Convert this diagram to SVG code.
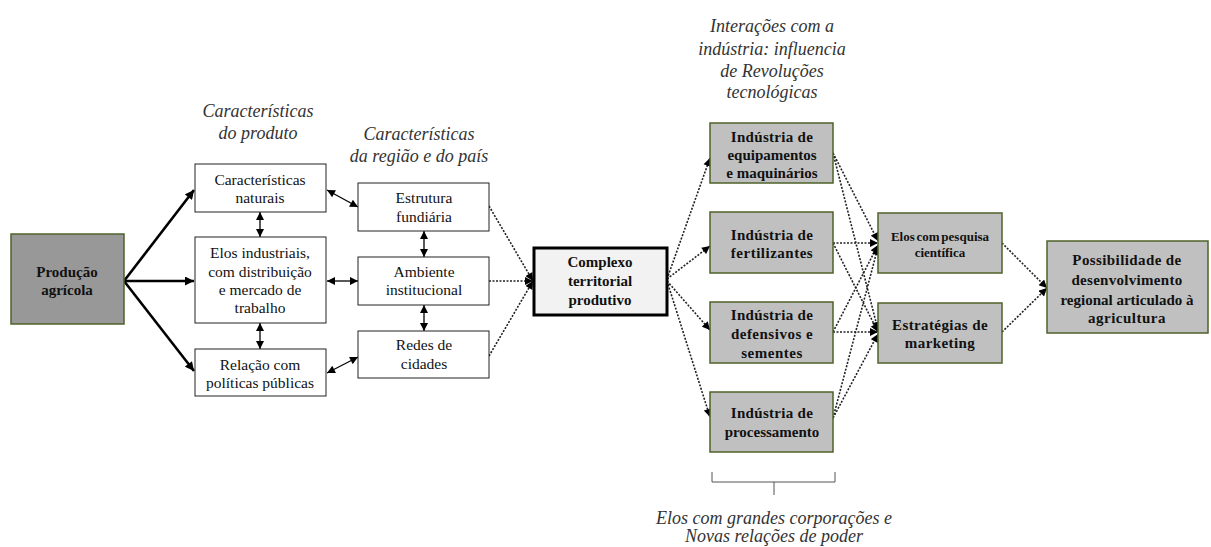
<svg xmlns="http://www.w3.org/2000/svg" width="1211" height="547" viewBox="0 0 1211 547">
<style>
.t{font-family:"Liberation Serif","DejaVu Serif",serif;font-size:15.5px;fill:#111;text-anchor:middle}
.b{font-weight:bold;font-size:15px}
.sm{font-size:13px;word-spacing:-1.5px}
.i{font-family:"Liberation Serif","DejaVu Serif",serif;font-style:italic;font-size:18px;fill:#333;text-anchor:middle}
.wbox{fill:#fff;stroke:#222;stroke-width:1}
.gbox{fill:#c0c0c0;stroke:#4f6228;stroke-width:1.5}
.dbox{fill:#989898;stroke:#4f6228;stroke-width:1.5}
.solid{stroke:#000;stroke-width:1.3;fill:none}
.thick{stroke:#000;stroke-width:2.6;fill:none}
.dot{stroke:#222;stroke-width:1.6;stroke-dasharray:2,1.5;fill:none}
</style>
<defs>
<marker id="ah" viewBox="0 0 10 10" refX="10" refY="5" markerWidth="9" markerHeight="8" markerUnits="userSpaceOnUse" orient="auto-start-reverse"><path d="M0,0 L10,5 L0,10 z" fill="#000"/></marker>
<marker id="ahb" viewBox="0 0 10 10" refX="10" refY="5" markerWidth="11" markerHeight="9" markerUnits="userSpaceOnUse" orient="auto"><path d="M0,0 L10,5 L0,10 z" fill="#000"/></marker>
</defs>

<g id="titles">
<text class="i" x="258" y="117">Características</text>
<text class="i" x="258" y="139">do produto</text>
<text class="i" x="419" y="140">Características</text>
<text class="i" x="419" y="162">da região e do país</text>
<text class="i" x="772" y="32">Interações com a</text>
<text class="i" x="772" y="55">indústria: influencia</text>
<text class="i" x="772" y="77">de Revoluções</text>
<text class="i" x="772" y="98">tecnológicas</text>
<text class="i" x="774" y="524">Elos com grandes corporações e</text>
<text class="i" x="774" y="542">Novas relações de poder</text>
</g>

<g id="connectors">
<line class="thick" x1="124" y1="281" x2="194" y2="190" marker-end="url(#ahb)"/>
<line class="thick" x1="124" y1="281" x2="194" y2="281" marker-end="url(#ahb)"/>
<line class="thick" x1="124" y1="281" x2="194" y2="371" marker-end="url(#ahb)"/>
<line class="solid" x1="260" y1="212" x2="260" y2="237" marker-start="url(#ah)" marker-end="url(#ah)"/>
<line class="solid" x1="260" y1="323" x2="260" y2="349" marker-start="url(#ah)" marker-end="url(#ah)"/>
<line class="solid" x1="424" y1="231" x2="424" y2="257" marker-start="url(#ah)" marker-end="url(#ah)"/>
<line class="solid" x1="424" y1="305" x2="424" y2="331" marker-start="url(#ah)" marker-end="url(#ah)"/>
<line class="solid" x1="327" y1="190" x2="358" y2="207" marker-start="url(#ah)" marker-end="url(#ah)"/>
<line class="solid" x1="327" y1="281" x2="358" y2="281" marker-start="url(#ah)" marker-end="url(#ah)"/>
<line class="solid" x1="327" y1="373" x2="358" y2="357" marker-start="url(#ah)" marker-end="url(#ah)"/>
<line class="dot" x1="489" y1="206" x2="533" y2="281" marker-end="url(#ah)"/>
<line class="dot" x1="489" y1="281" x2="533" y2="281" marker-end="url(#ah)"/>
<line class="dot" x1="489" y1="356" x2="533" y2="281" marker-end="url(#ah)"/>
<line class="dot" x1="667" y1="279" x2="710" y2="158" marker-end="url(#ah)"/>
<line class="dot" x1="667" y1="279" x2="710" y2="246" marker-end="url(#ah)"/>
<line class="dot" x1="667" y1="281" x2="710" y2="330" marker-end="url(#ah)"/>
<line class="dot" x1="667" y1="281" x2="710" y2="417" marker-end="url(#ah)"/>
<line class="dot" x1="833" y1="153" x2="878" y2="241" marker-end="url(#ah)"/>
<line class="dot" x1="833" y1="153" x2="878" y2="330" marker-end="url(#ah)"/>
<line class="dot" x1="833" y1="243" x2="878" y2="243" marker-end="url(#ah)"/>
<line class="dot" x1="833" y1="243" x2="878" y2="332" marker-end="url(#ah)"/>
<line class="dot" x1="833" y1="332" x2="878" y2="245" marker-end="url(#ah)"/>
<line class="dot" x1="833" y1="332" x2="878" y2="332" marker-end="url(#ah)"/>
<line class="dot" x1="833" y1="418" x2="878" y2="247" marker-end="url(#ah)"/>
<line class="dot" x1="833" y1="418" x2="878" y2="334" marker-end="url(#ah)"/>
<line class="dot" x1="1002" y1="243" x2="1047" y2="288" marker-end="url(#ah)"/>
<line class="dot" x1="1002" y1="332" x2="1047" y2="288" marker-end="url(#ah)"/>
<path d="M712,472 V482 H835 V472 M774,482 V495" stroke="#555" stroke-width="1" fill="none"/>
</g>

<g id="producao">
<rect class="dbox" x="11" y="234" width="113" height="90"/>
<text class="t b" x="67" y="277">Produção</text>
<text class="t b" x="67" y="295">agrícola</text>
</g>
<g id="caracteristicas-naturais">
<rect class="wbox" x="195" y="164" width="131" height="48"/>
<text class="t" x="260" y="185">Características</text>
<text class="t" x="260" y="203">naturais</text>
</g>
<g id="elos-industriais">
<rect class="wbox" x="195" y="237" width="131" height="86"/>
<text class="t" x="260" y="258">Elos industriais,</text>
<text class="t" x="260" y="277">com distribuição</text>
<text class="t" x="260" y="295">e mercado de</text>
<text class="t" x="260" y="313">trabalho</text>
</g>
<g id="relacao-politicas">
<rect class="wbox" x="195" y="349" width="131" height="47"/>
<text class="t" x="260" y="370">Relação com</text>
<text class="t" x="260" y="388">políticas públicas</text>
</g>
<g id="estrutura-fundiaria">
<rect class="wbox" x="358" y="183" width="131" height="48"/>
<text class="t" x="424" y="203">Estrutura</text>
<text class="t" x="424" y="222">fundiária</text>
</g>
<g id="ambiente-institucional">
<rect class="wbox" x="358" y="257" width="131" height="48"/>
<text class="t" x="424" y="277">Ambiente</text>
<text class="t" x="424" y="295">institucional</text>
</g>
<g id="redes-cidades">
<rect class="wbox" x="358" y="331" width="131" height="47"/>
<text class="t" x="424" y="350">Redes de</text>
<text class="t" x="424" y="369">cidades</text>
</g>
<g id="complexo">
<rect x="534" y="248" width="133" height="67" fill="#f2f2f2" stroke="#000" stroke-width="3"/>
<text class="t b" x="600" y="267">Complexo</text>
<text class="t b" x="600" y="286">territorial</text>
<text class="t b" x="600" y="305">produtivo</text>
</g>
<g id="ind-equipamentos">
<rect class="gbox" x="710" y="123" width="123" height="60"/>
<text class="t b" x="772" y="142" letter-spacing="0.3">Indústria  de</text>
<text class="t b" x="772" y="160">equipamentos</text>
<text class="t b" x="772" y="178">e maquinários</text>
</g>
<g id="ind-fertilizantes">
<rect class="gbox" x="710" y="212" width="123" height="61"/>
<text class="t b" x="772" y="240" letter-spacing="0.3">Indústria  de</text>
<text class="t b" x="772" y="258" letter-spacing="0.5">fertilizantes</text>
</g>
<g id="ind-defensivos">
<rect class="gbox" x="710" y="302" width="123" height="61"/>
<text class="t b" x="772" y="320" letter-spacing="0.3">Indústria  de</text>
<text class="t b" x="772" y="339" letter-spacing="0.5">defensivos e</text>
<text class="t b" x="772" y="358" letter-spacing="0.5">sementes</text>
</g>
<g id="ind-processamento">
<rect class="gbox" x="710" y="392" width="123" height="60"/>
<text class="t b" x="772" y="418" letter-spacing="0.3">Indústria  de</text>
<text class="t b" x="772" y="437">processamento</text>
</g>
<g id="elos-pesquisa">
<rect class="gbox" x="878" y="213" width="124" height="60"/>
<text class="t b sm" x="940" y="241">Elos com pesquisa</text>
<text class="t b sm" x="940" y="257">científica</text>
</g>
<g id="estrategias-marketing">
<rect class="gbox" x="878" y="303" width="124" height="60"/>
<text class="t b" x="940" y="330" letter-spacing="0.4">Estratégias de</text>
<text class="t b" x="940" y="348" letter-spacing="0.4">marketing</text>
</g>
<g id="possibilidade">
<rect class="gbox" x="1047" y="241" width="161" height="92"/>
<text class="t b" x="1127" y="265" letter-spacing="0.4">Possibilidade  de</text>
<text class="t b" x="1127" y="285" letter-spacing="0.3">desenvolvimento</text>
<text class="t b" x="1127" y="305">regional articulado à</text>
<text class="t b" x="1127" y="323" letter-spacing="0.5">agricultura</text>
</g>
</svg>
